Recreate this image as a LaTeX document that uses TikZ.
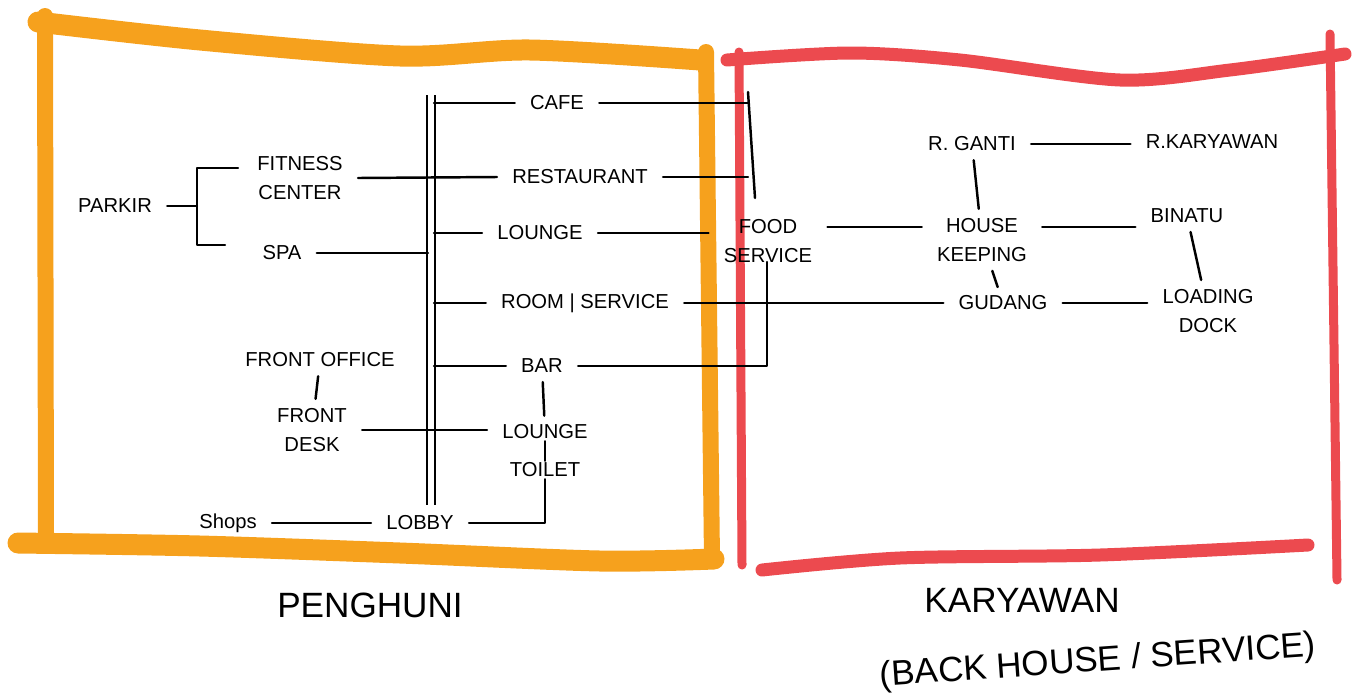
\documentclass[tikz,border=0pt]{standalone}
\usepackage{fontspec}
\setmainfont{Liberation Sans}
\usepackage{xcolor}
\definecolor{zguest}{HTML}{F6A11D}
\definecolor{zstaff}{HTML}{EC4A4F}
\newcommand{\zonename}[1]{\fontsize{20}{24}\selectfont #1}

\begin{document}
\begin{tikzpicture}[
  x=0.02cm, y=-0.02cm,
  room/.style={
    font=\fontsize{11.5}{17}\selectfont,
    align=center, inner xsep=0.3cm, inner ysep=1pt
  },
  link/.style={line width=1.4pt, line cap=round, line join=round},
  tick/.style={link, shorten <=4pt, shorten >=4pt},
  spine/.style={line width=1.4pt, double, double distance=3pt},
  guestframe/.style={draw=zguest, line cap=round, line join=round},
  staffframe/.style={draw=zstaff, line cap=round, line join=round},
  zone/.style={inner sep=0pt},
]
  \useasboundingbox (0,0) rectangle (1365,697);

  % zone frames
  \draw[guestframe, line width=0.42cm] plot[smooth] coordinates
    {(38,22) (200,40) (400,56) (530,50) (700,60)};
  \draw[guestframe, line width=0.32cm] (45,16) -- (46,540);
  \draw[guestframe, line width=0.42cm] plot[smooth] coordinates
    {(18,543) (200,546) (400,553) (600,561) (714,559)};
  \draw[guestframe, line width=0.32cm] (706,52) -- (712,560);

  \draw[staffframe, line width=0.26cm] plot[smooth] coordinates
    {(727,60) (850,53) (960,60) (1120,80) (1230,70) (1345,54)};
  \draw[staffframe, line width=0.18cm] (739,52) -- (742,565);
  \draw[staffframe, line width=0.18cm] (1330,34) -- (1337,580);
  \draw[staffframe, line width=0.26cm] plot[smooth] coordinates
    {(762,570) (900,558) (1100,555) (1308,545)};

  % penghuni
  \node[room] (parkir)      at (115,206) {PARKIR};
  \node[room] (fitness)     at (300,178) {FITNESS\\CENTER};
  \node[room] (spa)         at (282,253) {SPA};
  \node[room] (frontoffice) at (320,360) {FRONT OFFICE};
  \node[room] (frontdesk)   at (312,430) {FRONT\\DESK};
  \node[room] (shops)       at (228,523) {Shops};
  \node[room] (lobby)       at (420,523) {LOBBY};
  \node[room] (cafe)        at (557,103) {CAFE};
  \node[room] (restaurant)  at (580,177) {RESTAURANT};
  \node[room] (lounge)      at (540,233) {LOUNGE};
  \node[room] (roomservice) at (585,303) {ROOM | SERVICE};
  \node[room] (bar)         at (542,366) {BAR};
  \node[room] (loungetwo)   at (545,432) {LOUNGE};
  \node[room] (toilet)      at (545,470) {TOILET};

  % karyawan
  \node[room] (food)         at (768,241) {FOOD\\SERVICE};
  \node[room] (ganti)        at (972,144) {R. GANTI};
  \node[room] (rkaryawan)    at (1212,142) {R.KARYAWAN};
  \node[room] (housekeeping) at (982,240) {HOUSE\\KEEPING};
  \node[room] (binatu)       at (1187,216) {BINATU};
  \node[room] (gudang)       at (1003,303) {GUDANG};
  \node[room] (loading)      at (1208,311) {LOADING\\DOCK};

  \node[zone] (penghuni) at (370,605) {\zonename{PENGHUNI}};
  \node[zone] (karyawan) at (1022,600) {\zonename{KARYAWAN}};
  \node[zone, rotate=4] (backhouse) at (1098,662)
    {\zonename{(BACK HOUSE / SERVICE)}};

  \coordinate (spineL)   at (428,95);
  \coordinate (spineR)   at (434,95);
  \coordinate (spinetop) at (431,95);
  \coordinate (spinebot) at (431,505);
  \coordinate (pkFork)   at (197,206);
  \coordinate (pkTop)    at (238,168);
  \coordinate (pkBot)    at (225,245);
  \coordinate (fsTop)    at (748,92);
  \coordinate (fsMid)    at (755,198);
  \coordinate (fsLow)    at (767,262);
  \coordinate (hkRow)    at (0,227);

  \draw[spine] (spinetop) -- (spinebot);

  \draw[link] (parkir.east) -- (pkFork);
  \draw[link] (pkTop) -| (pkFork) |- (pkBot);
  \draw[link] (fitness.east) -- (restaurant.west);
  \draw[link] (spa.east) -- (spa.east -| spineL);
  \draw[link] (cafe.west) -- (cafe.west -| spineR);
  \draw[link] (lounge.west) -- (lounge.west -| spineR);
  \draw[link] (roomservice.west) -- (roomservice.west -| spineR);
  \draw[link] (bar.west) -- (bar.west -| spineR);
  \draw[link] (frontdesk.east) -- (frontdesk.east -| loungetwo.west);
  \draw[tick] (frontoffice) -- (frontdesk);
  \draw[tick] (bar) -- (loungetwo);
  \draw[link] (loungetwo.south) -- (toilet.north);
  \draw[link] (toilet.south) |- (lobby.east);
  \draw[link] (shops.east) -- (lobby.west);

  \draw[link] (cafe.east) -- (cafe.east -| fsTop);
  \draw[link] (restaurant.east) -- (restaurant.east -| fsTop);
  \draw[link] (fsTop) -- (fsMid);
  \draw[link] (lounge.east) -- (lounge.east -| food.west);
  \draw[link] (bar.east) -| (fsLow);
  \draw[link] (roomservice.east) -- (gudang.west);

  \draw[link] (food.east |- hkRow) -- (housekeeping.west |- hkRow);
  \draw[link] (ganti.east) -- (ganti.east -| rkaryawan.west);
  \draw[tick] (ganti) -- (housekeeping);
  \draw[link] (housekeeping.east |- hkRow) -- (binatu.west |- hkRow);
  \draw[tick] (housekeeping) -- (gudang);
  \draw[tick] (binatu) -- (loading);
  \draw[link] (gudang.east) -- (gudang.east -| loading.west);
\end{tikzpicture}
\end{document}
